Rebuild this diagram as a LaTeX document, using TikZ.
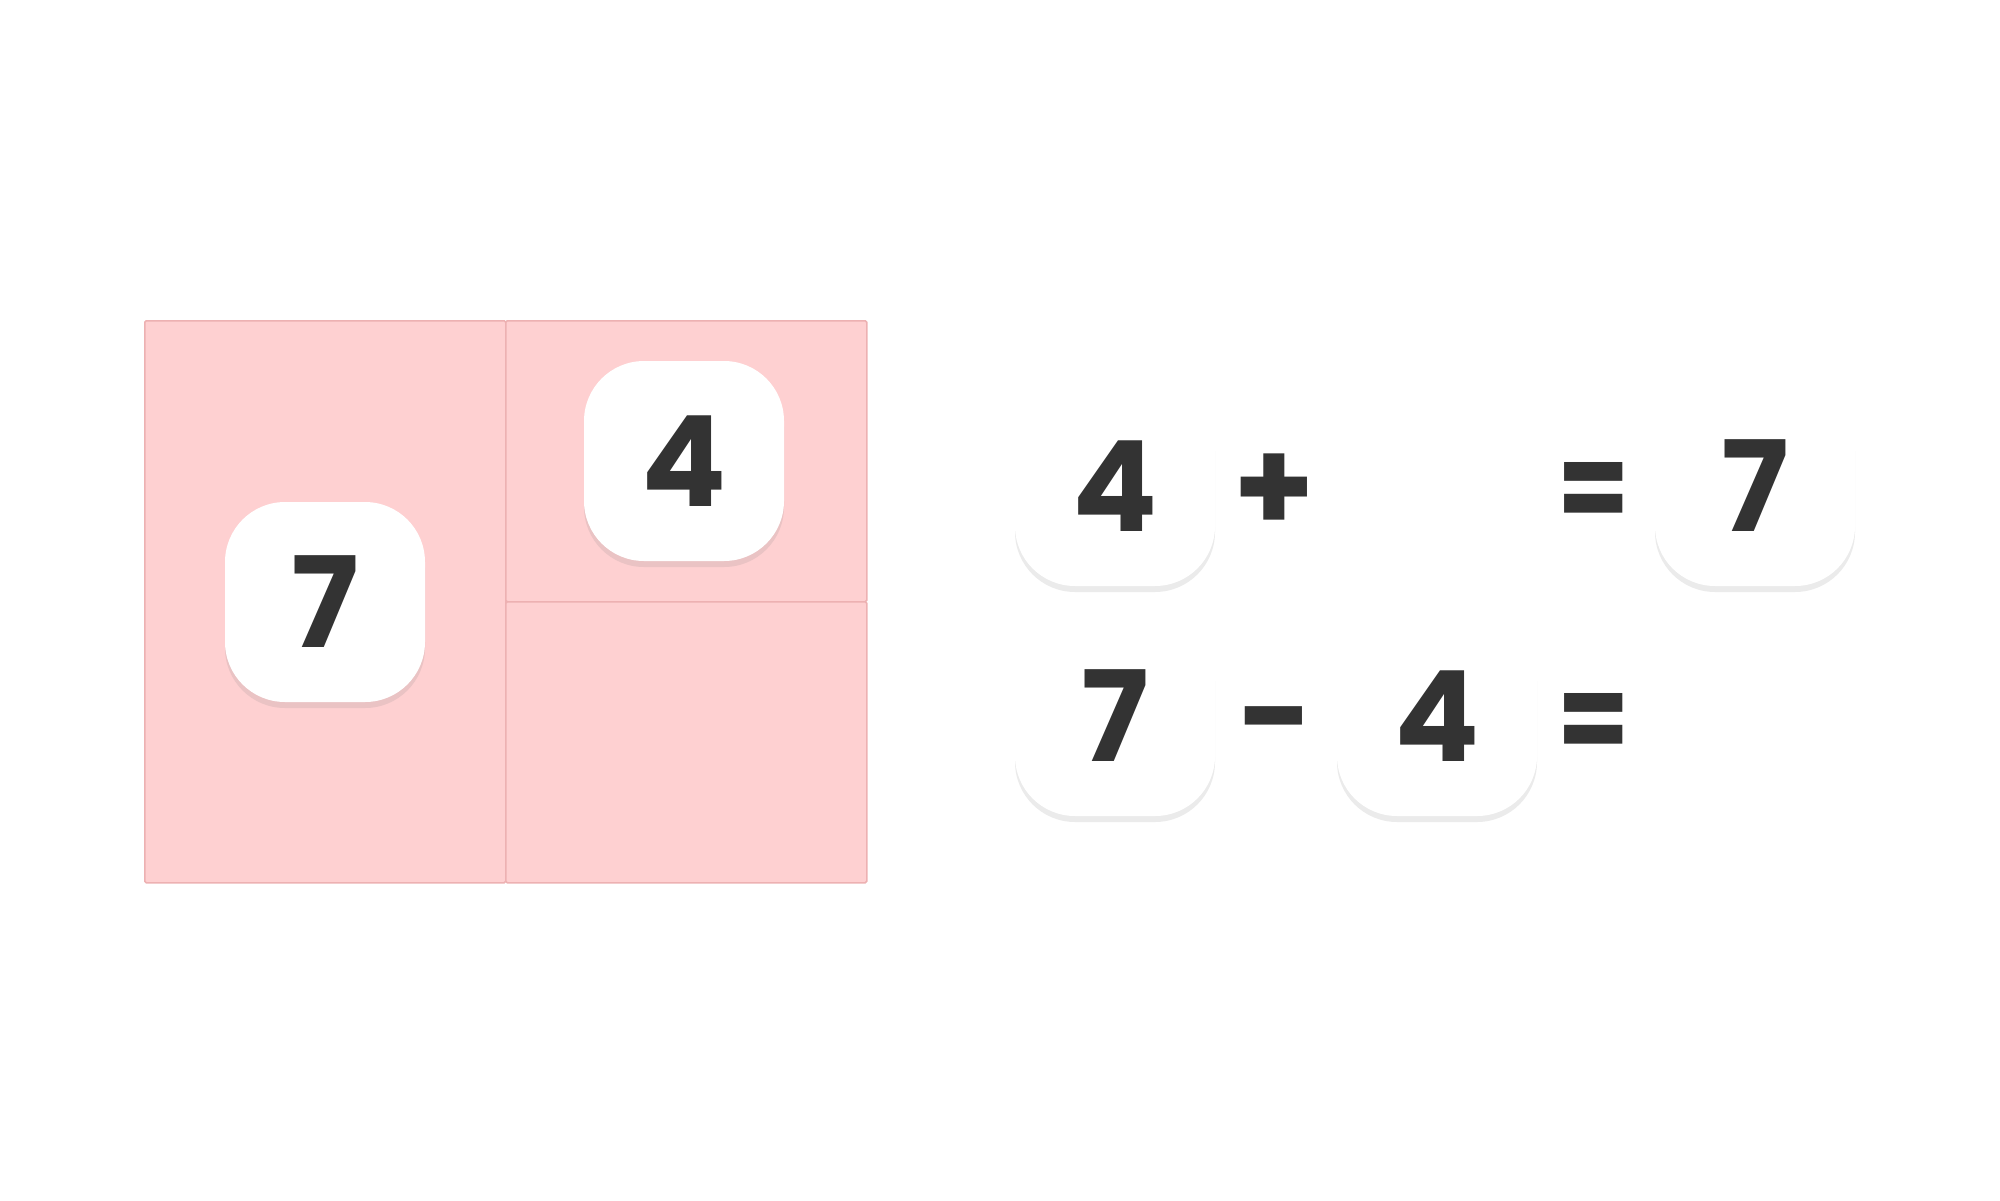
\documentclass[tikz,border=0pt]{standalone}
\usepackage{fontspec}
\newfontfamily\dfont{Poppins}
\usetikzlibrary{shadows}
\definecolor{pinkfill}{HTML}{FED0D1}
\definecolor{pinkline}{HTML}{EDB1B2}
\definecolor{pinkshadow}{HTML}{EAC3C4}
\definecolor{greyshadow}{HTML}{EBEBEB}
\definecolor{ink}{HTML}{333333}
\begin{document}
\begin{tikzpicture}[x=1pt,y=-1pt,
  cell/.style={draw=pinkline, fill=pinkfill, line width=1.5pt, rounded corners=1.5pt, anchor=north west, inner sep=0pt, minimum width=361pt},
  tile/.style={fill=white, rounded corners=60pt, minimum width=200pt, minimum height=200pt, inner sep=0pt, font=\dfont\bfseries\fontsize{126}{126}\selectfont, text=ink},
  pinktile/.style={tile, general shadow={fill=pinkshadow, shadow yshift=-6pt}},
  whitetile/.style={tile, general shadow={fill=greyshadow, shadow yshift=-6pt}},
  op/.style={inner sep=0pt, font=\dfont\bfseries\fontsize{130}{130}\selectfont, text=ink}]
\useasboundingbox (0,0) rectangle (2000,1200);
% left panel
\node[cell, minimum height=562pt] (cellL) at (144,320) {};
\node[cell, minimum height=281pt] (cellTR) at (505,320) {};
\node[cell, minimum height=281pt] (cellBR) at (505,601) {};
\node[pinktile] (p7) at (325,602) {7};
\node[pinktile] (p4) at (684,461) {4};
% equations
\node[whitetile] (a4) at (1115,486) {4};
\node[op] (plus) at (1274,493) {+};
\node[op] (eq1) at (1594,497) {\scalebox{0.8}[0.96]{=}};
\node[whitetile] (a7) at (1755,486) {7};
\node[whitetile] (b7) at (1115,716) {7};
\node[op] (minus) at (1274,734) {−};
\node[whitetile] (b4) at (1437,716) {4};
\node[op] (eq2) at (1594,728) {\scalebox{0.8}[0.96]{=}};
\end{tikzpicture}
\end{document}
